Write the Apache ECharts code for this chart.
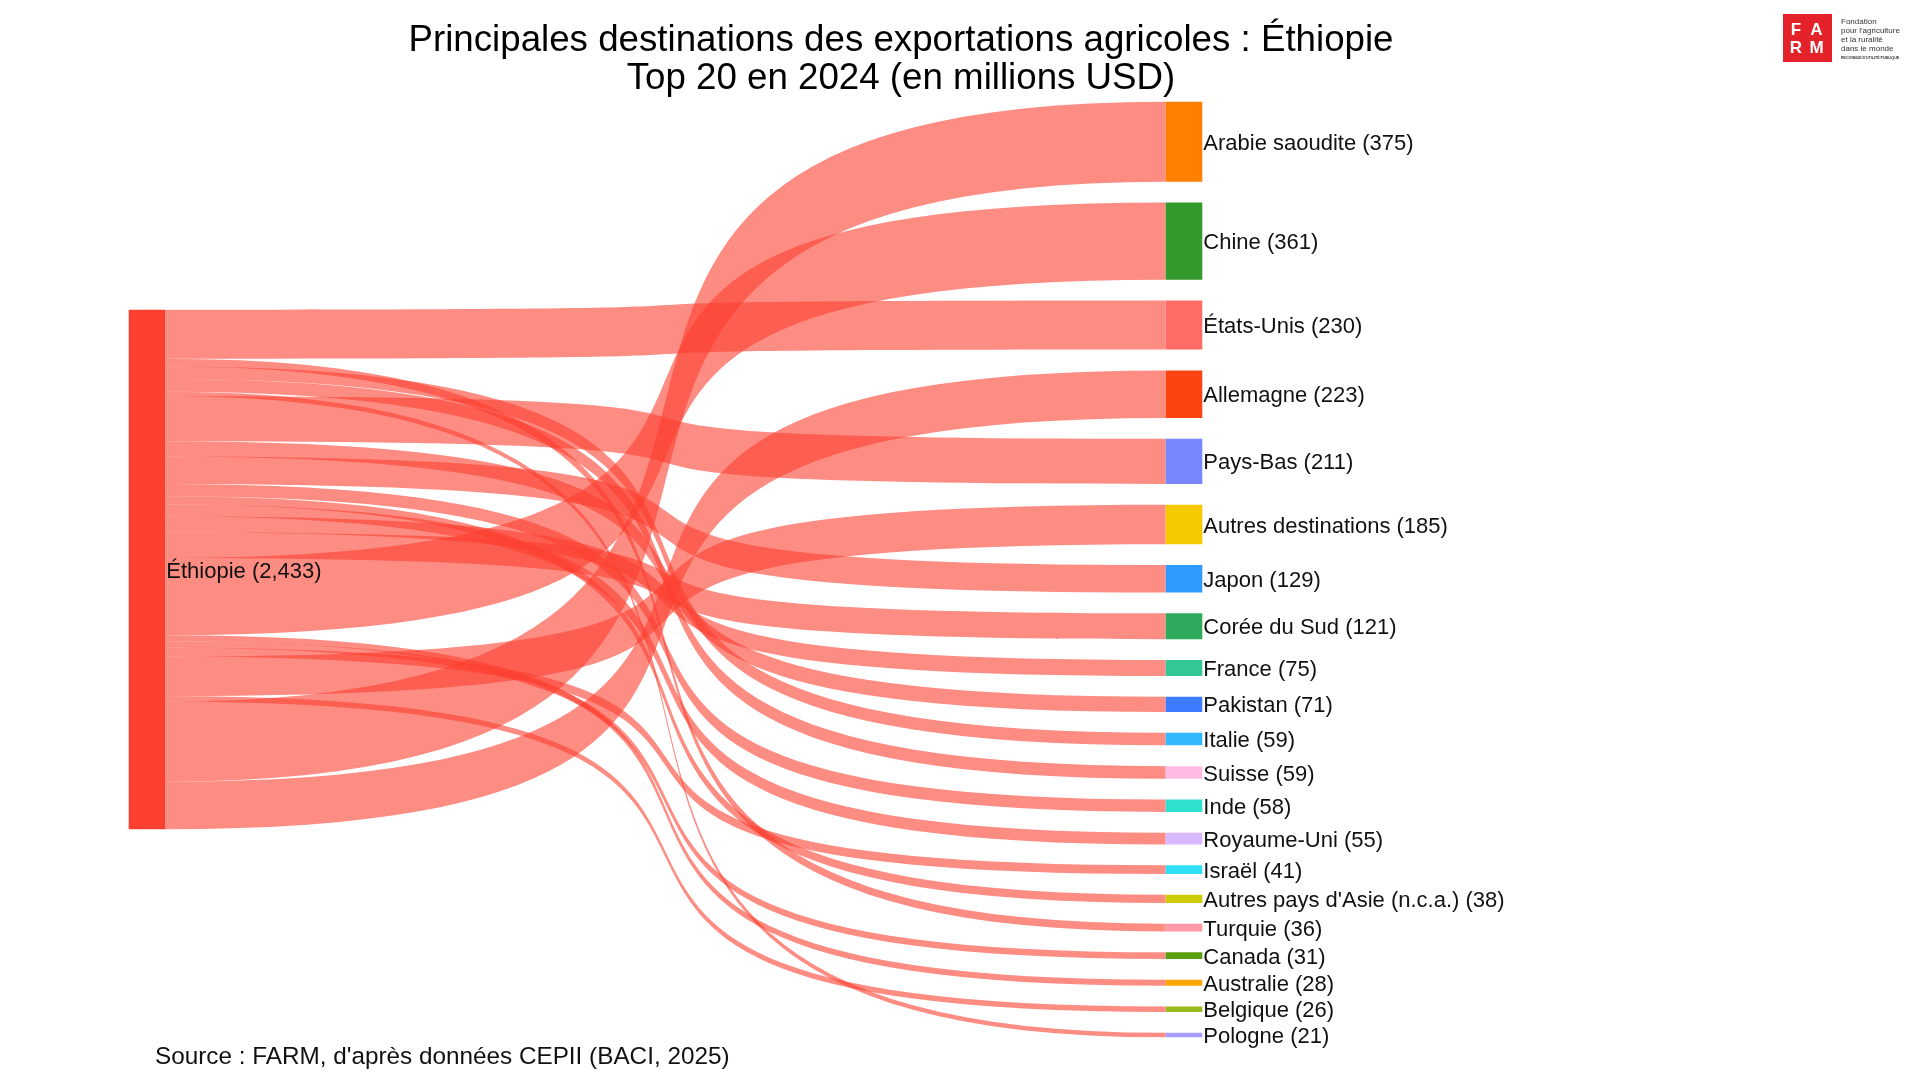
<!DOCTYPE html>
<html><head><meta charset="utf-8">
<script src="https://cdn.jsdelivr.net/npm/echarts@6/dist/echarts.min.js"></script>
<style>html,body{margin:0;padding:0;background:#fff}#c{width:1920px;height:1080px}</style>
</head><body><div id="c"></div>
<script>
// ---- data ----
const sourceName = 'Éthiopie';
const destinations = ['Arabie saoudite','Chine','États-Unis','Allemagne','Pays-Bas','Autres destinations','Japon','Corée du Sud','France','Pakistan','Italie','Suisse','Inde','Royaume-Uni','Israël',"Autres pays d'Asie (n.c.a.)",'Turquie','Canada','Australie','Belgique','Pologne'];
const values = [375,361,230,223,211,185,129,121,75,71,59,59,58,55,41,38,36,31,28,26,21];
const nodeColors = ['#FF7F00','#33992B','#FF6B66','#FA4511','#7788FF','#F5C800','#2F9BFF','#2EAA5C','#33C795','#3D7BFF','#33B8FF','#FFBBE3','#2EE0D0','#D8B8FF','#2EE0F5','#CCCC00','#FF99AA','#5A9E10','#FFA500','#99B81C','#A89CFF'];
const sourceColor = '#FC4030';
// order in which the flows leave the source node (top to bottom)
const linkOrder = ['États-Unis','Turquie','Italie','Suisse','Pologne','Pays-Bas','Pakistan','Japon','Inde',"Autres pays d'Asie (n.c.a.)",'Royaume-Uni','France','Corée du Sud','Chine','Australie','Canada','Israël','Autres destinations','Belgique','Arabie saoudite','Allemagne'];
const titleLines = ['Principales destinations des exportations agricoles : Éthiopie','Top 20 en 2024 (en millions USD)'];
const sourceNote = "Source : FARM, d'après données CEPII (BACI, 2025)";

// ---- layout ----
const box = {left:128.7, top:101.7, width:1073.6, height:935.6};
const nodeGap = 20.8;
const total = values.reduce((a,b)=>a+b,0);
const ky = (box.height - (values.length-1)*nodeGap)/total;
const valueOf = {}; const colorOf = {}; const localY = {};
let acc = 0;
destinations.forEach((d,i)=>{
  valueOf[d] = values[i]; colorOf[d] = nodeColors[i];
  localY[d] = acc / box.height;
  acc += values[i]*ky + nodeGap;
});
valueOf[sourceName] = total;
const srcLocalY = (box.height - total*ky)/2/box.height;

const nodes = [{name: sourceName, localY: srcLocalY, itemStyle:{color: sourceColor}}]
  .concat(linkOrder.map(n => ({name: n, localY: localY[n], itemStyle:{color: colorOf[n]}})));
const links = linkOrder.map(n => ({source: sourceName, target: n, value: valueOf[n]}));

const FONT = 'Arial, "Liberation Sans", sans-serif';
const chart = echarts.init(document.getElementById('c'));
chart.setOption({
  animation: false,
  backgroundColor: '#fff',
  series: [{
    type: 'sankey',
    left: box.left, top: box.top, width: box.width, height: box.height,
    nodeWidth: 36.6, nodeGap: nodeGap,
    layoutIterations: 0,
    nodeAlign: 'left',
    draggable: false,
    emphasis: {disabled: true},
    data: nodes,
    links: links,
    itemStyle: {borderWidth: 0},
    lineStyle: {color: sourceColor, opacity: 0.6, curveness: 0.85},
    label: {
      show: true, position: 'right', distance: 1, offset: [0, 2],
      color: '#111', fontSize: 22, fontFamily: FONT, textBorderWidth: 0,
      formatter: p => p.name + ' (' + valueOf[p.name].toLocaleString('en-US') + ')'
    }
  }],
  graphic: [
    {type:'text', x: 901, y: 40.5, style:{text: titleLines[0], font: '36.7px ' + FONT, fill:'#000', align:'center', verticalAlign:'middle'}},
    {type:'text', x: 901, y: 78.5, style:{text: titleLines[1], font: '36.7px ' + FONT, fill:'#000', align:'center', verticalAlign:'middle'}},
    {type:'text', x: 155, y: 1057.5, style:{text: sourceNote, font: '24.3px ' + FONT, fill:'#111', align:'left', verticalAlign:'middle'}},
    {type:'rect', shape:{x:1783, y:14, width:49, height:48}, style:{fill:'#E42229'}},
    {type:'text', x: 1796, y: 30.5, style:{text:'F', font:'bold 17px ' + FONT, fill:'#fff', align:'center', verticalAlign:'middle'}},
    {type:'text', x: 1816.5, y: 30.5, style:{text:'A', font:'bold 17px ' + FONT, fill:'#fff', align:'center', verticalAlign:'middle'}},
    {type:'text', x: 1796, y: 48, style:{text:'R', font:'bold 17px ' + FONT, fill:'#fff', align:'center', verticalAlign:'middle'}},
    {type:'text', x: 1816.5, y: 48, style:{text:'M', font:'bold 17px ' + FONT, fill:'#fff', align:'center', verticalAlign:'middle'}},
    {type:'text', x: 1841, y: 22, style:{text:'Fondation', font:'8px ' + FONT, fill:'#333', verticalAlign:'middle'}},
    {type:'text', x: 1841, y: 31, style:{text:"pour l'agriculture", font:'8px ' + FONT, fill:'#333', verticalAlign:'middle'}},
    {type:'text', x: 1841, y: 40, style:{text:'et la ruralité', font:'8px ' + FONT, fill:'#333', verticalAlign:'middle'}},
    {type:'text', x: 1841, y: 49, style:{text:'dans le monde', font:'8px ' + FONT, fill:'#333', verticalAlign:'middle'}},
    {type:'text', x: 1841, y: 58, style:{text:"RECONNUE D'UTILITÉ PUBLIQUE", font:'bold 3.6px ' + FONT, fill:'#333', verticalAlign:'middle'}}
  ]
});
</script>
</body></html>
